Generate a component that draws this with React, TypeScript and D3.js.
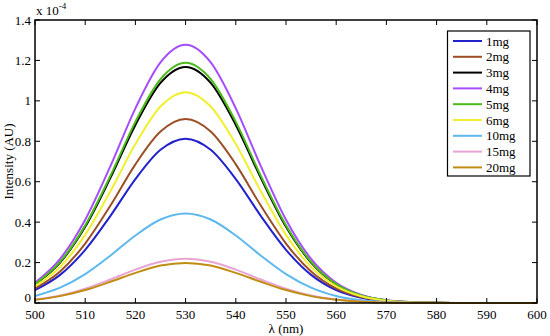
import * as d3 from 'd3';
import React, { useEffect, useRef } from 'react';

// wavelengths (nm)
const wavelengths = [500, 505, 510, 515, 520, 525, 530, 535, 540, 545, 550, 555, 560, 565, 570, 575, 580, 590, 600];

const labels = ['1mg', '2mg', '3mg', '4mg', '5mg', '6mg', '10mg', '15mg', '20mg'];
const colors = ['#2222cc', '#9c4f27', '#000000', '#a64dff', '#4cbb1a', '#f0f030', '#5cb8ee', '#e8a4d4', '#c08c12'];

// intensity, x 10^-4 AU
const s1mg = [0.064, 0.139, 0.263, 0.430, 0.613, 0.758, 0.813, 0.758, 0.613, 0.430, 0.263, 0.139, 0.064, 0.026, 0.009, 0.003, 0.001, 0, 0];
const s2mg = [0.072, 0.156, 0.294, 0.481, 0.686, 0.848, 0.910, 0.848, 0.686, 0.481, 0.294, 0.156, 0.072, 0.029, 0.010, 0.003, 0.001, 0, 0];
const s3mg = [0.092, 0.200, 0.377, 0.618, 0.881, 1.089, 1.168, 1.089, 0.881, 0.618, 0.377, 0.200, 0.092, 0.037, 0.013, 0.004, 0.001, 0, 0];
const s4mg = [0.100, 0.218, 0.412, 0.676, 0.963, 1.190, 1.277, 1.190, 0.963, 0.676, 0.412, 0.218, 0.100, 0.040, 0.014, 0.004, 0.001, 0, 0];
const s5mg = [0.093, 0.203, 0.384, 0.628, 0.896, 1.107, 1.188, 1.107, 0.896, 0.628, 0.384, 0.203, 0.093, 0.037, 0.013, 0.004, 0.001, 0, 0];
const s6mg = [0.082, 0.178, 0.337, 0.552, 0.786, 0.972, 1.043, 0.972, 0.786, 0.552, 0.337, 0.178, 0.082, 0.033, 0.011, 0.003, 0.001, 0, 0];
const s10mg = [0.035, 0.076, 0.143, 0.234, 0.334, 0.413, 0.443, 0.413, 0.334, 0.234, 0.143, 0.076, 0.035, 0.014, 0.005, 0.001, 0, 0, 0];
const s15mg = [0.017, 0.037, 0.071, 0.116, 0.165, 0.204, 0.219, 0.204, 0.165, 0.116, 0.071, 0.037, 0.017, 0.007, 0.002, 0.001, 0, 0, 0];
const s20mg = [0.016, 0.034, 0.064, 0.105, 0.149, 0.185, 0.198, 0.185, 0.149, 0.105, 0.064, 0.034, 0.016, 0.006, 0.002, 0.001, 0, 0, 0];

const series = [s1mg, s2mg, s3mg, s4mg, s5mg, s6mg, s10mg, s15mg, s20mg];

const xTicks = [500, 510, 520, 530, 540, 550, 560, 570, 580, 590, 600];
const yTicks = [0, 0.2, 0.4, 0.6, 0.8, 1, 1.2, 1.4];

const App = () => {
  const chartRef = useRef(null);

  useEffect(() => {
    document.body.style.margin = '0';
    drawChart();
  }, []);

  const drawChart = () => {
    const svg = d3.select(chartRef.current);
    svg.selectAll('*').remove();

    const font = "'Liberation Serif', 'Times New Roman', 'DejaVu Serif', serif";
    const left = 35, right = 537, top = 20, bottom = 303;

    const x = d3.scaleLinear().domain([500, 600]).range([left, right]);
    const y = d3.scaleLinear().domain([0, 1.4]).range([bottom, top]);

    const line = d3.line<number>()
      .x((d, i) => x(wavelengths[i]))
      .y(d => y(d))
      .curve(d3.curveMonotoneX);

    const plot = svg.append('g');
    series.forEach((s, i) => {
      plot.append('path')
        .datum(s)
        .attr('d', line)
        .attr('fill', 'none')
        .attr('stroke', colors[i])
        .attr('stroke-width', 2);
    });

    // ticks on all four sides, pointing inward
    const tl = 5;
    const ticks = svg.append('g').attr('stroke', '#000').attr('stroke-width', 1);
    xTicks.forEach(t => {
      ticks.append('line').attr('x1', x(t)).attr('x2', x(t)).attr('y1', bottom).attr('y2', bottom - tl);
      ticks.append('line').attr('x1', x(t)).attr('x2', x(t)).attr('y1', top).attr('y2', top + tl);
    });
    yTicks.forEach(t => {
      ticks.append('line').attr('x1', left).attr('x2', left + tl).attr('y1', y(t)).attr('y2', y(t));
      ticks.append('line').attr('x1', right).attr('x2', right - tl).attr('y1', y(t)).attr('y2', y(t));
    });

    svg.append('rect')
      .attr('x', left).attr('y', top)
      .attr('width', right - left).attr('height', bottom - top)
      .attr('fill', 'none').attr('stroke', '#000').attr('stroke-width', 1.5);

    const txt = svg.append('g')
      .style('font-family', font)
      .style('font-size', '13px')
      .attr('fill', '#000');

    txt.append('g').selectAll('text')
      .data(xTicks).enter().append('text')
      .attr('x', d => x(d)).attr('y', bottom + 16)
      .attr('text-anchor', 'middle')
      .text(d => d);

    txt.append('g').selectAll('text')
      .data(yTicks).enter().append('text')
      .attr('x', left - 4).attr('y', d => (d === 0 ? y(d) - 1 : y(d) + 4.5))
      .attr('text-anchor', 'end')
      .text(d => String(d));

    const exp = txt.append('text')
      .attr('x', left + 1).attr('y', top - 5);
    exp.append('tspan').text('x 10');
    exp.append('tspan').attr('dy', -6).style('font-size', '9px').text('-4');

    txt.append('text')
      .attr('x', (left + right) / 2).attr('y', 333)
      .attr('text-anchor', 'middle')
      .text('λ (nm)');

    txt.append('text')
      .attr('transform', `translate(13,${(top + bottom) / 2}) rotate(-90)`)
      .attr('text-anchor', 'middle')
      .text('Intensity (AU)');

    // legend
    const lg = svg.append('g');
    lg.append('rect')
      .attr('x', 447.5).attr('y', 31)
      .attr('width', 82.5).attr('height', 145)
      .attr('fill', '#fff').attr('stroke', '#000').attr('stroke-width', 1.2);
    labels.forEach((name, i) => {
      const ly = 41 + i * 15.8;
      lg.append('line')
        .attr('x1', 453).attr('x2', 482).attr('y1', ly).attr('y2', ly)
        .attr('stroke', colors[i]).attr('stroke-width', 2);
      lg.append('text')
        .attr('x', 486).attr('y', ly + 4.5)
        .style('font-family', font).style('font-size', '13px')
        .text(name);
    });
  };

  return (
    <svg ref={chartRef} width={550} height={336} style={{ display: 'block', background: '#fff' }}></svg>
  );
};

export default App;
